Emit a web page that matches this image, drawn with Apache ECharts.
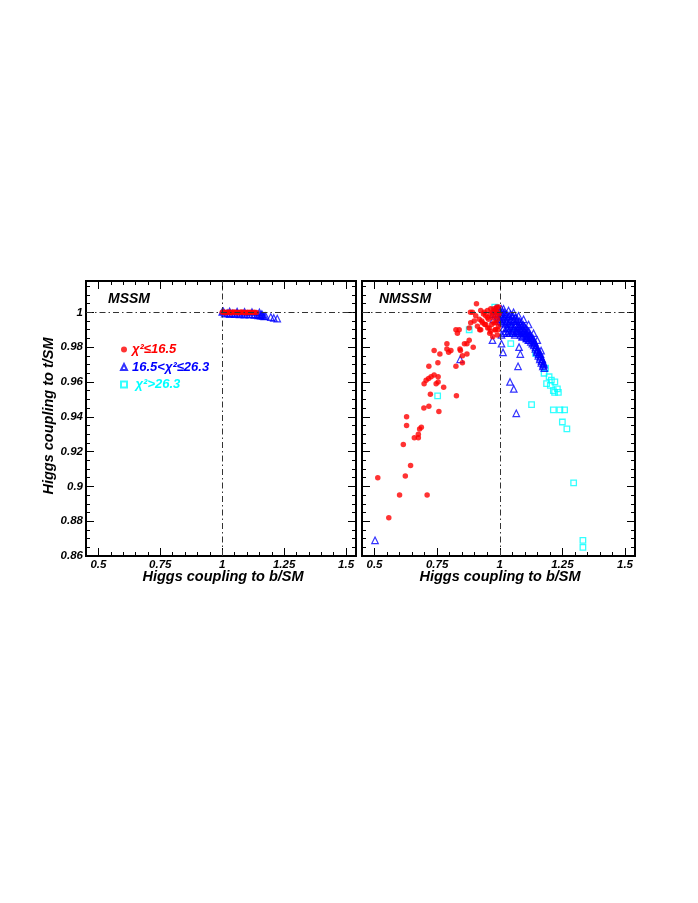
<!DOCTYPE html>
<html>
<head>
<meta charset="utf-8">
<script src="https://cdn.jsdelivr.net/npm/echarts@6/dist/echarts.min.js"></script>
<style>
  html, body { margin: 0; padding: 0; background: #fff; }
  #chart { width: 698px; height: 903px; }
</style>
</head>
<body>
<div id="chart"></div>
<script>
// axis ticks / labels
const xTicks = [0.5, 0.75, 1, 1.25, 1.5];
const yTicks = [0.86, 0.88, 0.9, 0.92, 0.94, 0.96, 0.98, 1];
const panelNames = ['MSSM', 'NMSSM'];
const seriesNames = ['χ²≤16.5', '16.5<χ²≤26.3', ' χ²>26.3'];

// MSSM points [b/SM, t/SM]
const mssmLow = [
    [1.000, 1.0000], [1.006, 1.0002], [1.012, 0.9998], [1.018, 1.0001], [1.024, 0.9999],
    [1.030, 1.0002], [1.036, 0.9998], [1.042, 1.0000], [1.048, 1.0002], [1.054, 0.9999],
    [1.060, 1.0001], [1.066, 0.9998], [1.072, 1.0000], [1.078, 1.0002], [1.084, 0.9999],
    [1.090, 1.0000], [1.096, 0.9998], [1.102, 1.0001], [1.108, 0.9999], [1.114, 1.0000],
    [1.122, 0.9999], [1.130, 1.0000], [1.138, 0.9999]
];
const mssmMid = [
    [1.000, 1.0003], [1.010, 0.9992], [1.020, 0.9996], [1.030, 0.9990], [1.040, 0.9994],
    [1.050, 0.9989], [1.060, 0.9993], [1.070, 0.9988], [1.080, 0.9992], [1.090, 0.9987],
    [1.100, 0.9990], [1.110, 0.9986], [1.120, 0.9989], [1.130, 0.9985], [1.140, 0.9987],
    [1.145, 0.9983], [1.150, 0.9985], [1.155, 0.9981], [1.160, 0.9983], [1.165, 0.9979],
    [1.170, 0.9977], [1.175, 0.9979], [1.196, 0.9973], [1.208, 0.9968], [1.222, 0.9964],
    [1.005, 1.0005], [1.030, 1.0005], [1.060, 1.0004], [1.090, 1.0003], [1.120, 1.0002],
    [1.150, 1.0000], [1.160, 0.9990]
];
const mssmHigh = [];

// NMSSM points
const nmssmLow = [
    [0.513, 0.905], [0.557, 0.882], [0.600, 0.895], [0.710, 0.895], [0.623, 0.906],
    [0.644, 0.912], [0.615, 0.924], [0.628, 0.935], [0.628, 0.940], [0.659, 0.928],
    [0.675, 0.928], [0.675, 0.930], [0.680, 0.933], [0.687, 0.934], [0.697, 0.945],
    [0.717, 0.946], [0.757, 0.943], [0.723, 0.953], [0.827, 0.952], [0.698, 0.959],
    [0.706, 0.961], [0.716, 0.962], [0.726, 0.963], [0.738, 0.964], [0.754, 0.963],
    [0.746, 0.959], [0.754, 0.960], [0.776, 0.957], [0.717, 0.969], [0.753, 0.971],
    [0.738, 0.978], [0.761, 0.976], [0.789, 0.982], [0.789, 0.979], [0.796, 0.977],
    [0.805, 0.978], [0.825, 0.969], [0.851, 0.971], [0.851, 0.975], [0.869, 0.976],
    [0.841, 0.979], [0.843, 0.978], [0.859, 0.982], [0.869, 0.982], [0.894, 0.980],
    [0.825, 0.990], [0.831, 0.988], [0.838, 0.990], [0.878, 0.984], [0.883, 1.000],
    [0.891, 1.000], [0.907, 1.005], [0.924, 1.001], [0.898, 0.995], [0.884, 0.994],
    [0.878, 0.991], [0.904, 0.998], [0.918, 0.996], [0.931, 0.994], [0.944, 0.998],
    [0.951, 1.001], [0.964, 1.002], [0.971, 1.000], [0.958, 0.991], [0.964, 0.989],
    [0.977, 0.994], [0.984, 0.998], [0.991, 0.996], [0.997, 0.999], [0.995, 0.992],
    [0.971, 0.997], [0.951, 0.997], [0.938, 1.000], [0.911, 0.992], [0.924, 0.990],
    [0.944, 0.993], [0.981, 0.990], [0.984, 1.001], [0.977, 1.002], [0.935, 0.999],
    [0.955, 0.996], [0.962, 0.999], [0.968, 0.993], [0.985, 0.994], [0.990, 1.000],
    [0.993, 0.990], [0.960, 0.988], [0.972, 0.986], [0.952, 0.991], [0.940, 0.993],
    [0.928, 0.995], [0.920, 0.990], [0.990, 0.987], [0.983, 0.990], [0.996, 1.003],
    [0.988, 1.003]
];
const nmssmMid = [
    [0.502, 0.869], [0.842, 0.973], [0.971, 0.984], [1.007, 0.987], [1.007, 0.982],
    [1.013, 0.977], [1.077, 0.980], [1.082, 0.976], [1.073, 0.969], [1.041, 0.960],
    [1.056, 0.956], [1.066, 0.942],
    [1.031, 0.988], [1.050, 0.989], [1.070, 0.988], [1.090, 0.986], [1.106, 0.985],
    [1.117, 0.987], [1.137, 0.983], [1.150, 0.978], [1.163, 0.976], [1.170, 0.973],
    [1.177, 0.970],
    [0.972, 0.999], [0.978, 1.001], [0.985, 1.002], [0.990, 0.998], [0.995, 1.002],
    [0.998, 0.996], [1.002, 1.001], [1.005, 0.998], [1.008, 0.994], [1.010, 1.000],
    [1.012, 0.996], [1.015, 0.991], [1.018, 1.000], [1.020, 0.997], [1.023, 0.993],
    [1.025, 0.989], [1.028, 0.999], [1.030, 0.995], [1.033, 0.991], [1.036, 0.998],
    [1.038, 0.994], [1.040, 0.988], [1.043, 0.999], [1.045, 0.996], [1.048, 0.992],
    [1.050, 0.988], [1.053, 0.998], [1.055, 0.995], [1.058, 0.991], [1.060, 0.987],
    [1.063, 0.997], [1.066, 0.993], [1.068, 0.989], [1.070, 0.996], [1.073, 0.992],
    [1.076, 0.988], [1.078, 0.995], [1.080, 0.991], [1.083, 0.987], [1.086, 0.994],
    [1.088, 0.990], [1.090, 0.986], [1.093, 0.993], [1.095, 0.989], [1.098, 0.992],
    [1.100, 0.987], [1.103, 0.991], [1.106, 0.988], [1.108, 0.985], [1.110, 0.990],
    [1.113, 0.986], [1.116, 0.989], [1.118, 0.984], [1.121, 0.987], [1.124, 0.983],
    [1.127, 0.986], [1.130, 0.982], [1.133, 0.985], [1.136, 0.981], [1.139, 0.983],
    [1.142, 0.979], [1.145, 0.981], [1.148, 0.977], [1.151, 0.979], [1.154, 0.975],
    [1.157, 0.977], [1.160, 0.973], [1.163, 0.975], [1.166, 0.971], [1.169, 0.973],
    [1.172, 0.969], [1.175, 0.971], [1.178, 0.968],
    [0.975, 0.996], [0.982, 0.999], [0.988, 1.001], [0.993, 0.997], [1.000, 0.999],
    [1.003, 0.995], [1.006, 1.002], [1.011, 0.998], [1.014, 0.994], [1.017, 0.988],
    [1.021, 0.999], [1.024, 0.995], [1.027, 0.991], [1.032, 0.997], [1.035, 0.993],
    [1.039, 0.990], [1.042, 0.996], [1.046, 0.993], [1.049, 0.998], [1.052, 0.990],
    [1.057, 0.996], [1.061, 0.993], [1.064, 0.989], [1.067, 0.995], [1.071, 0.990],
    [1.075, 0.993], [1.079, 0.989], [1.082, 0.993], [1.085, 0.989], [1.089, 0.992],
    [1.092, 0.988], [1.096, 0.990], [1.101, 0.989], [1.105, 0.986], [1.109, 0.988],
    [1.114, 0.984], [1.119, 0.986], [1.125, 0.985], [1.131, 0.984], [1.137, 0.982],
    [1.143, 0.980], [1.149, 0.978], [1.155, 0.976], [1.161, 0.974], [1.167, 0.972],
    [1.173, 0.970], [1.015, 1.002], [1.035, 1.001], [1.055, 1.000], [1.075, 0.998],
    [1.095, 0.996], [1.115, 0.993], [1.135, 0.988], [1.150, 0.984], [1.165, 0.978]
];
const nmssmHigh = [
    [0.752, 0.952], [0.878, 0.990], [0.980, 1.003], [1.044, 0.991], [1.055, 0.988],
    [1.044, 0.982], [1.143, 0.9765], [1.183, 0.968], [1.177, 0.965], [1.197, 0.963],
    [1.187, 0.959], [1.206, 0.961], [1.220, 0.960], [1.202, 0.958], [1.214, 0.955],
    [1.230, 0.956], [1.234, 0.954], [1.219, 0.954], [1.127, 0.947], [1.214, 0.944],
    [1.240, 0.944], [1.259, 0.944], [1.250, 0.937], [1.268, 0.933], [1.295, 0.902],
    [1.332, 0.869], [1.332, 0.865]
];

const X_MIN = 0.45, X_MAX = 1.54;
const Y_MIN = 0.86, Y_MAX = 1.018;

// minor tick positions
const xMinor = [];
for (let i = 0; i <= 21; i++) xMinor.push(+(0.45 + i * 0.05).toFixed(3));
const yMinor = [];
for (let i = 0; i <= 31; i++) yMinor.push(+(0.86 + i * 0.005).toFixed(4));

const FONT = 'Liberation Sans, Arial, sans-serif';
const fmt = v => String(+(+v).toFixed(2));

const grids = [
    { left: 86, top: 281, width: 270, height: 275 },
    { left: 362, top: 281, width: 273, height: 275 }
];

function makeAxis(dim, g, pos, ticks, len, withLabels) {
    const isX = dim === 'x';
    return {
        type: 'value',
        gridIndex: g,
        position: pos,
        min: isX ? X_MIN : Y_MIN,
        max: isX ? X_MAX : Y_MAX,
        axisLine: { show: false },
        splitLine: { show: false },
        axisTick: {
            show: true, inside: true, length: len, customValues: ticks,
            lineStyle: { color: '#000', width: 1 }
        },
        axisLabel: withLabels ? {
            show: true, customValues: ticks, formatter: fmt, margin: isX ? 3 : 3,
            fontFamily: FONT, fontSize: 11.5, fontWeight: 'bold', fontStyle: 'italic', color: '#000'
        } : { show: false }
    };
}

const xAxes = [], yAxes = [];
grids.forEach((gr, g) => {
    xAxes.push(makeAxis('x', g, 'bottom', xTicks, 8, true));
    xAxes.push(makeAxis('x', g, 'bottom', xMinor, 4, false));
    xAxes.push(makeAxis('x', g, 'top', xTicks, 8, false));
    xAxes.push(makeAxis('x', g, 'top', xMinor, 4, false));
    yAxes.push(makeAxis('y', g, 'left', yTicks, 8, g === 0));
    yAxes.push(makeAxis('y', g, 'left', yMinor, 4, false));
    yAxes.push(makeAxis('y', g, 'right', yTicks, 8, false));
    yAxes.push(makeAxis('y', g, 'right', yMinor, 4, false));
});

const styles = [
    { symbol: 'circle', symbolSize: 5.5, itemStyle: { color: '#ff0000' } },
    { symbol: 'triangle', symbolSize: 6.5, itemStyle: { color: 'rgba(0,0,0,0)', borderColor: '#0000ff', borderWidth: 1.2 } },
    { symbol: 'rect', symbolSize: 5.5, itemStyle: { color: 'rgba(0,0,0,0)', borderColor: '#00ffff', borderWidth: 1.3 } }
];

const panelData = [[mssmLow, mssmMid, mssmHigh], [nmssmLow, nmssmMid, nmssmHigh]];
const series = [];
panelData.forEach((sets, g) => {
    // draw order: high, mid, low (red on top)
    [2, 1, 0].forEach(k => {
        series.push(Object.assign({
            type: 'scatter',
            name: seriesNames[k],
            xAxisIndex: g * 4,
            yAxisIndex: g * 4,
            data: sets[k],
            silent: true,
            z: 2 + (2 - k)
        }, styles[k]));
    });
    series.push({
        type: 'line',
        xAxisIndex: g * 4,
        yAxisIndex: g * 4,
        data: [[1, 1]],
        symbol: 'none',
        lineStyle: { width: 0 },
        silent: true,
        z: 10,
        markLine: {
            silent: true,
            symbol: 'none',
            label: { show: false },
            lineStyle: { type: [6, 3, 1.5, 3], color: '#333', width: 1 },
            data: [{ xAxis: 1 }, { yAxis: 1 }]
        }
    });
});

const textStyle = (size) => ({
    fontFamily: FONT, fontSize: size, fontWeight: 'bold', fontStyle: 'italic', fill: '#000'
});

const chart = echarts.init(document.getElementById('chart'), null, { renderer: 'canvas' });
chart.setOption({
    animation: false,
    backgroundColor: '#fff',
    grid: grids.map(gr => Object.assign({
        show: true, borderColor: '#000', borderWidth: 2, backgroundColor: 'transparent'
    }, gr)),
    xAxis: xAxes,
    yAxis: yAxes,
    legend: {
        orient: 'vertical',
        left: 120,
        top: 342,
        padding: 0,
        itemWidth: 6,
        itemHeight: 6,
        itemGap: 2.5,
        selectedMode: false,
        textStyle: {
            fontFamily: FONT, fontSize: 13, fontWeight: 'bold', fontStyle: 'italic', lineHeight: 15
        },
        data: [
            { name: seriesNames[0], textStyle: { color: '#ff0000' } },
            { name: seriesNames[1], textStyle: { color: '#0000ff' } },
            { name: seriesNames[2], textStyle: { color: '#00ffff' } }
        ]
    },
    graphic: [
        { type: 'text', left: 108, top: 292, style: Object.assign({ text: panelNames[0] }, textStyle(14)) },
        { type: 'text', left: 379, top: 292, style: Object.assign({ text: panelNames[1] }, textStyle(14)) },
        { type: 'text', x: 223, y: 577, style: Object.assign({ text: 'Higgs coupling to b/SM', align: 'center', verticalAlign: 'middle' }, textStyle(14.5)) },
        { type: 'text', x: 500, y: 577, style: Object.assign({ text: 'Higgs coupling to b/SM', align: 'center', verticalAlign: 'middle' }, textStyle(14.5)) },
        { type: 'text', x: 49, y: 416, rotation: Math.PI / 2, style: Object.assign({ text: 'Higgs coupling to t/SM', align: 'center', verticalAlign: 'middle' }, textStyle(14.5)) }
    ],
    series: series
});
</script>
</body>
</html>
